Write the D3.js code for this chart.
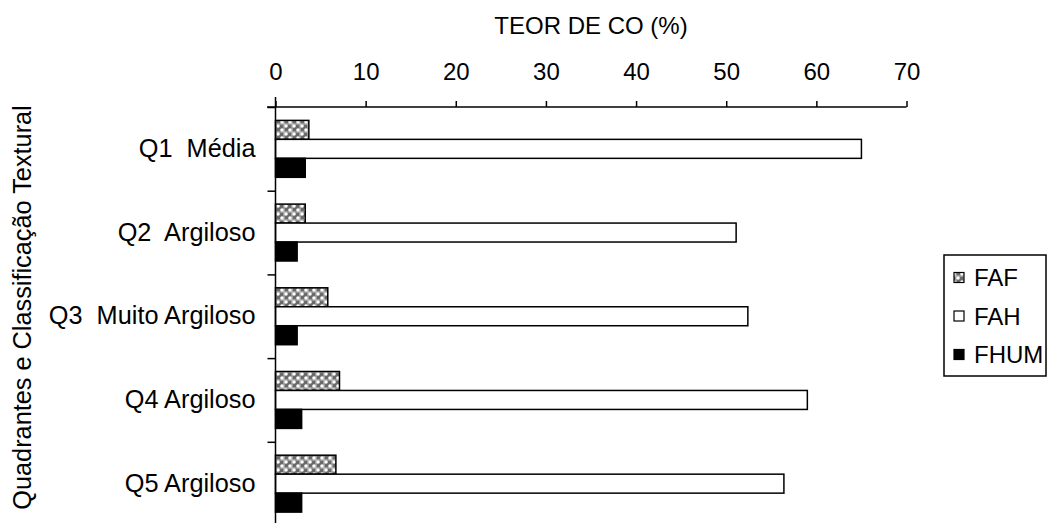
<!DOCTYPE html>
<html>
<head>
<meta charset="utf-8">
<script src="https://cdn.jsdelivr.net/npm/d3@7"></script>
<style>
  html, body { margin: 0; padding: 0; background: #fff; }
  svg { display: block; font-family: "Liberation Sans", Arial, sans-serif; }
</style>
</head>
<body>
<svg id="chart" width="1052" height="523"></svg>
<script>
// ---- data ----
const categories = ["Q1  Média", "Q2  Argiloso", "Q3  Muito Argiloso", "Q4 Argiloso", "Q5 Argiloso"];
const seriesNames = ["FAF", "FAH", "FHUM"];
const FAF  = [3.7, 3.3, 5.8, 7.1, 6.7];
const FAH  = [65.0, 51.1, 52.4, 59.0, 56.4];
const FHUM = [3.3, 2.4, 2.4, 2.9, 2.9];
const xTicks = [0, 10, 20, 30, 40, 50, 60, 70];
const xTitle = "TEOR DE CO (%)";
const yTitle = "Quadrantes e Classificação Textural";

const seriesValues = { FAF, FAH, FHUM };

const svg = d3.select("#chart");
const FONT = 24;
const FONT_L = 25.3;

// pattern for FAF
const defs = svg.append("defs");
const pat = defs.append("pattern").attr("id", "fafPat")
  .attr("patternUnits", "userSpaceOnUse").attr("width", 8).attr("height", 8);
pat.append("rect").attr("width", 8).attr("height", 8).attr("fill", "#6a6a6a");
pat.append("circle").attr("cx", 2).attr("cy", 2).attr("r", 1.8).attr("fill", "#fff");
pat.append("circle").attr("cx", 6).attr("cy", 6).attr("r", 1.8).attr("fill", "#fff");
pat.append("rect").attr("x", 3.6).attr("y", 0).attr("width", 0.8).attr("height", 8).attr("fill", "#dcdcdc");
pat.append("rect").attr("x", 0).attr("y", 3.6).attr("width", 8).attr("height", 0.8).attr("fill", "#dcdcdc");

const fills = { FAF: "url(#fafPat)", FAH: "#ffffff", FHUM: "#000000" };

// scales
const x = d3.scaleLinear().domain([0, 70]).range([275.5, 906.5]);
const yTop = 107, yBottom = 525.5;
const y = d3.scaleBand().domain(categories).range([yTop, yBottom]).padding(0);
const ySub = d3.scaleBand().domain(seriesNames)
  .range([y.bandwidth() * 0.16, y.bandwidth() * 0.84]).padding(0);
const yBound = d3.scaleLinear().domain([0, categories.length]).range([yTop, yBottom]);

// bars
const g = svg.append("g");
categories.forEach((c, i) => {
  seriesNames.forEach(s => {
    g.append("rect")
      .attr("x", x(0))
      .attr("y", y(c) + ySub(s))
      .attr("width", x(seriesValues[s][i]) - x(0))
      .attr("height", ySub.bandwidth())
      .attr("fill", fills[s])
      .attr("stroke", "#000")
      .attr("stroke-width", 1.5);
  });
});

// top x axis
const xAxis = d3.axisTop(x).tickValues(xTicks).tickSize(6).tickSizeOuter(0).tickPadding(21);
const gx = svg.append("g").attr("transform", `translate(0,${yTop})`).call(xAxis);
gx.selectAll("text").attr("font-size", FONT).attr("font-family", "Liberation Sans, Arial, sans-serif").attr("fill", "#000");
gx.selectAll("line").attr("stroke", "#000").attr("stroke-width", 1.5);
gx.select(".domain").remove();
svg.append("line").attr("x1", 267).attr("x2", x(70)).attr("y1", yTop).attr("y2", yTop)
  .attr("stroke", "#000").attr("stroke-width", 1.5);

// y axis boundary ticks
const yAxisTicks = d3.axisLeft(yBound).tickValues(d3.range(0, categories.length + 1)).tickSize(8).tickFormat("");
const gyt = svg.append("g").attr("transform", `translate(${x(0)},0)`).call(yAxisTicks);
gyt.select(".domain").remove();
gyt.selectAll("line").attr("stroke", "#000").attr("stroke-width", 1.5);
svg.append("line").attr("x1", x(0)).attr("x2", x(0)).attr("y1", 97).attr("y2", 523)
  .attr("stroke", "#000").attr("stroke-width", 1.5);

// category labels
const yAxisLabels = d3.axisLeft(y).tickSize(0).tickPadding(20);
const gyl = svg.append("g").attr("transform", `translate(${x(0)},0)`).call(yAxisLabels);
gyl.select(".domain").remove();
gyl.selectAll("text").attr("font-size", FONT_L).attr("font-family", "Liberation Sans, Arial, sans-serif")
  .attr("fill", "#000").style("white-space", "pre");

// titles
svg.append("text").attr("x", 591).attr("y", 34).attr("text-anchor", "middle")
  .attr("font-size", FONT).attr("fill", "#000").text(xTitle);
svg.append("text").attr("transform", "translate(31,307.5) rotate(-90)").attr("text-anchor", "middle")
  .attr("font-size", FONT_L).attr("fill", "#000").text(yTitle);

// legend
const lg = svg.append("g");
lg.append("rect").attr("x", 944).attr("y", 255).attr("width", 102).attr("height", 121)
  .attr("fill", "#fff").attr("stroke", "#000").attr("stroke-width", 1.5);
seriesNames.forEach((s, i) => {
  const base = 286 + i * 38.5;
  lg.append("rect").attr("x", 954).attr("y", base - 13.5).attr("width", 10).attr("height", 10)
    .attr("fill", fills[s]).attr("stroke", "#000").attr("stroke-width", 1.2);
  lg.append("text").attr("x", 974).attr("y", base).attr("font-size", FONT).attr("fill", "#000").text(s);
});
</script>
</body>
</html>
